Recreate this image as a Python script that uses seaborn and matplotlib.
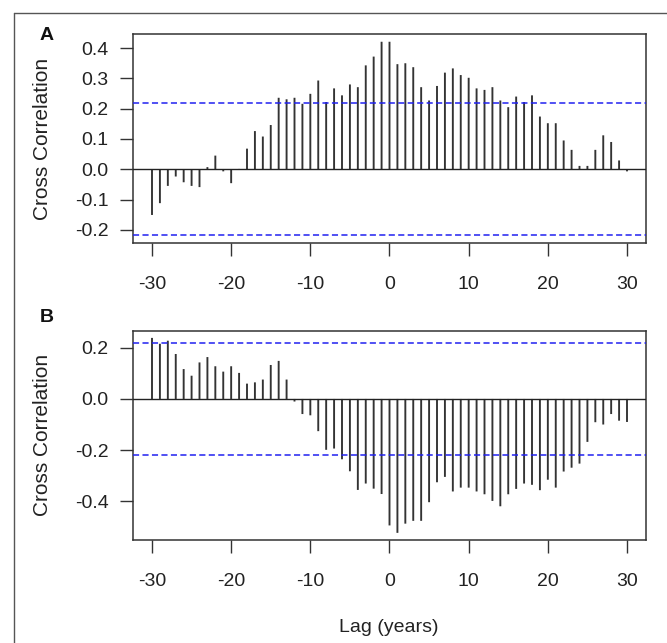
import numpy as np
import pandas as pd
import matplotlib
matplotlib.use("Agg")
import matplotlib.pyplot as plt
from matplotlib.lines import Line2D
import seaborn as sns

lags = list(range(-30, 31))

ccf_a = [-0.151, -0.112, -0.055, -0.024, -0.043, -0.055, -0.059, 0.007, 0.045, -0.007,
         -0.046, 0.001, 0.068, 0.126, 0.108, 0.146, 0.236, 0.231, 0.236, 0.216,
         0.249, 0.293, 0.222, 0.267, 0.244, 0.280, 0.271, 0.343, 0.372, 0.421,
         0.421, 0.347, 0.350, 0.337, 0.271, 0.227, 0.275, 0.319, 0.333, 0.311,
         0.302, 0.267, 0.262, 0.271, 0.227, 0.205, 0.240, 0.222, 0.244, 0.174,
         0.152, 0.152, 0.095, 0.064, 0.011, 0.011, 0.064, 0.112, 0.090, 0.029,
         -0.007]

ccf_b = [0.239, 0.216, 0.228, 0.176, 0.117, 0.091, 0.143, 0.164, 0.128, 0.107,
         0.128, 0.102, 0.060, 0.065, 0.076, 0.133, 0.149, 0.076, -0.010, -0.059,
         -0.064, -0.126, -0.199, -0.194, -0.236, -0.283, -0.356, -0.331, -0.351, -0.372,
         -0.495, -0.524, -0.488, -0.477, -0.477, -0.404, -0.326, -0.305, -0.362, -0.347,
         -0.347, -0.362, -0.373, -0.399, -0.420, -0.373, -0.352, -0.331, -0.336, -0.357,
         -0.316, -0.347, -0.284, -0.269, -0.253, -0.168, -0.091, -0.100, -0.059, -0.085,
         -0.090]

ci_a = 0.218
ci_b = 0.220

yticks_a = [-0.2, -0.1, 0.0, 0.1, 0.2, 0.3, 0.4]
yticks_b = [-0.4, -0.2, 0.0, 0.2]
xticks = [-30, -20, -10, 0, 10, 20, 30]
panel_labels = ["A", "B"]
xlabel = "Lag (years)"
ylabel = "Cross Correlation"

sns.set_style("white")
plt.rcParams["font.family"] = ["Liberation Sans", "DejaVu Sans"]

W, H = 667, 643
fig = plt.figure(figsize=(W / 100, H / 100), dpi=100)

def frac_box(left, top, right, bottom):
    return [left / W, 1 - bottom / H, (right - left) / W, (bottom - top) / H]

ax_a = fig.add_axes(frac_box(133, 34, 646, 243))
ax_b = fig.add_axes(frac_box(133, 331, 646, 540))

def draw(ax, vals, ci, yticks, ylim):
    df = pd.DataFrame({"lag": lags, "ccf": vals})
    sns.barplot(data=df, x="lag", y="ccf", native_scale=True, width=0.24,
                color="#333333", saturation=1, linewidth=0, errorbar=None, ax=ax)
    for p in ax.patches:
        p.set_snap(False)
    ax.axhline(0, color="#222222", lw=1.0, zorder=3)
    for v in (ci, -ci):
        ax.axhline(v, color="#2020f0", lw=1.1, dashes=(4.0, 2.2), zorder=4)
    ax.set_xlim(-32.4, 32.4)
    ax.set_ylim(*ylim)
    ax.set_xticks(xticks)
    ax.set_xticklabels([str(t) for t in xticks])
    ax.set_yticks(yticks)
    ax.set_yticklabels([f"{t:.1f}" for t in yticks])
    ax.set_xlabel("")
    ax.set_ylabel("")
    for s in ax.spines.values():
        s.set_color("#333333")
        s.set_linewidth(1.1)
    ax.tick_params(axis="both", direction="out", length=9.5, width=1.0,
                   color="#333333", labelsize=14, labelcolor="#222222",
                   bottom=True, left=True)
    ax.tick_params(axis="x", pad=14)
    ax.tick_params(axis="y", pad=8)
    ax.set_facecolor("white")

draw(ax_a, ccf_a, ci_a, yticks_a, (-0.2436, 0.4466))
draw(ax_b, ccf_b, ci_b, yticks_b, (-0.552, 0.266))

# y labels
fig.text(43 / W, 1 - 139 / H, ylabel, rotation=90, ha="center", va="center",
         fontsize=15, color="#222222")
fig.text(43 / W, 1 - 435 / H, ylabel, rotation=90, ha="center", va="center",
         fontsize=15, color="#222222")
# x label
fig.text(389 / W, 1 - 628 / H, xlabel, ha="center", va="center",
         fontsize=14, color="#222222")
# panel labels
fig.text(47 / W, 1 - 35 / H, panel_labels[0], ha="center", va="center",
         fontsize=14, fontweight="bold", color="#111111")
fig.text(47 / W, 1 - 318 / H, panel_labels[1], ha="center", va="center",
         fontsize=14, fontweight="bold", color="#111111")

# outer frame (top and left edges)
fig.add_artist(Line2D([14 / W, 1.0], [1 - 12.5 / H, 1 - 12.5 / H],
                      transform=fig.transFigure, color="#555555", lw=1.0))
fig.add_artist(Line2D([14 / W, 14 / W], [0.0, 1 - 12.5 / H],
                      transform=fig.transFigure, color="#555555", lw=1.0))

fig.savefig("out.png", dpi=100, facecolor="white")
